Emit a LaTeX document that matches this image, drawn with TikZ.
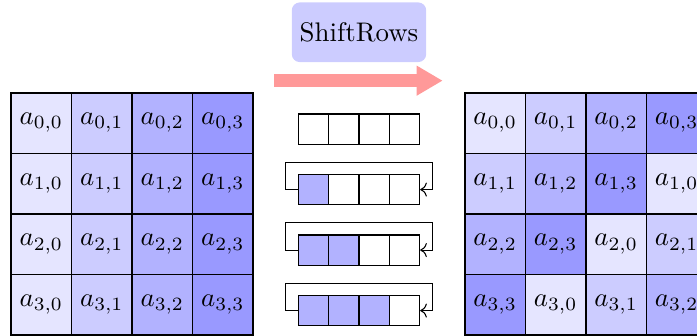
\documentclass[tikz,border=0pt]{standalone}
\usepackage{amssymb}
\usepackage{xcolor}
\usepackage{tikz}
\usetikzlibrary{arrows.meta}

\tikzset{
	cell/.style={draw, line width=0.55pt, minimum size=22.5pt, inner sep=0pt},
	scell/.style={draw, line width=0.5pt, minimum size=11.25pt, inner sep=0pt},
	k0/.style={cell, fill=blue!10},
	k1/.style={cell, fill=blue!20},
	k2/.style={cell, fill=blue!30},
	k3/.style={cell, fill=blue!40},
	sk/.style={scell, fill=blue!30},
	loopline/.style={draw, ->},
}

\begin{document}
\begin{tikzpicture}[x=0.75pt,y=0.75pt,yscale=-1,xscale=1]
		\useasboundingbox (0,0) rectangle (345.6,166.6);
		
		% Text Node
		\node [fill=blue!20, rounded corners=3pt, minimum width=50pt, minimum height=22.2pt, inner sep=0.75pt] (title) at (178,16) {ShiftRows};
		%Straight Lines
		\coordinate (arrS) at (136,40);
		\coordinate (arrE) at (219.5,40);
		\draw [color=red!40, line width=4.95pt, -{Triangle[length=9.7pt,width=10.5pt]}] (arrS) -- (arrE);
		
		%Shape: Square -- state before
		\node [k0] (L00) at (20.5,61) {$a_{0,0}$};
		\node [k1] (L01) at (50.5,61) {$a_{0,1}$};
		\node [k2] (L02) at (80.5,61) {$a_{0,2}$};
		\node [k3] (L03) at (110.5,61) {$a_{0,3}$};
		\node [k0] (L10) at (20.5,91) {$a_{1,0}$};
		\node [k1] (L11) at (50.5,91) {$a_{1,1}$};
		\node [k2] (L12) at (80.5,91) {$a_{1,2}$};
		\node [k3] (L13) at (110.5,91) {$a_{1,3}$};
		\node [k0] (L20) at (20.5,121) {$a_{2,0}$};
		\node [k1] (L21) at (50.5,121) {$a_{2,1}$};
		\node [k2] (L22) at (80.5,121) {$a_{2,2}$};
		\node [k3] (L23) at (110.5,121) {$a_{2,3}$};
		\node [k0] (L30) at (20.5,151) {$a_{3,0}$};
		\node [k1] (L31) at (50.5,151) {$a_{3,1}$};
		\node [k2] (L32) at (80.5,151) {$a_{3,2}$};
		\node [k3] (L33) at (110.5,151) {$a_{3,3}$};
		
		%Shape: Square -- state after
		\node [k0] (R00) at (245.5,61) {$a_{0,0}$};
		\node [k1] (R01) at (275.5,61) {$a_{0,1}$};
		\node [k2] (R02) at (305.5,61) {$a_{0,2}$};
		\node [k3] (R03) at (335.5,61) {$a_{0,3}$};
		\node [k1] (R10) at (245.5,91) {$a_{1,1}$};
		\node [k2] (R11) at (275.5,91) {$a_{1,2}$};
		\node [k3] (R12) at (305.5,91) {$a_{1,3}$};
		\node [k0] (R13) at (335.5,91) {$a_{1,0}$};
		\node [k2] (R20) at (245.5,121) {$a_{2,2}$};
		\node [k3] (R21) at (275.5,121) {$a_{2,3}$};
		\node [k0] (R22) at (305.5,121) {$a_{2,0}$};
		\node [k1] (R23) at (335.5,121) {$a_{2,1}$};
		\node [k3] (R30) at (245.5,151) {$a_{3,3}$};
		\node [k0] (R31) at (275.5,151) {$a_{3,0}$};
		\node [k1] (R32) at (305.5,151) {$a_{3,1}$};
		\node [k2] (R33) at (335.5,151) {$a_{3,2}$};
		
		%Shape: Rectangle -- rotated rows
		\node [scell] (s00) at (155.5,64) {};
		\node [scell] (s01) at (170.5,64) {};
		\node [scell] (s02) at (185.5,64) {};
		\node [scell] (s03) at (200.5,64) {};
		\node [sk] (s10) at (155.5,94) {};
		\node [scell] (s11) at (170.5,94) {};
		\node [scell] (s12) at (185.5,94) {};
		\node [scell] (s13) at (200.5,94) {};
		\node [sk] (s20) at (155.5,124) {};
		\node [sk] (s21) at (170.5,124) {};
		\node [scell] (s22) at (185.5,124) {};
		\node [scell] (s23) at (200.5,124) {};
		\node [sk] (s30) at (155.5,154) {};
		\node [sk] (s31) at (170.5,154) {};
		\node [sk] (s32) at (185.5,154) {};
		\node [scell] (s33) at (200.5,154) {};
		
		%Straight Lines -- wrap around
		\draw [loopline] (s10.west) -- ++(-6,0) -- ++(0,-13.5) -| ([xshift=4.5pt]s13.east) -- (s13.east);
		\draw [loopline] (s20.west) -- ++(-6,0) -- ++(0,-13.5) -| ([xshift=4.5pt]s23.east) -- (s23.east);
		\draw [loopline] (s30.west) -- ++(-6,0) -- ++(0,-13.5) -| ([xshift=4.5pt]s33.east) -- (s33.east);
		
\end{tikzpicture}
\end{document}
